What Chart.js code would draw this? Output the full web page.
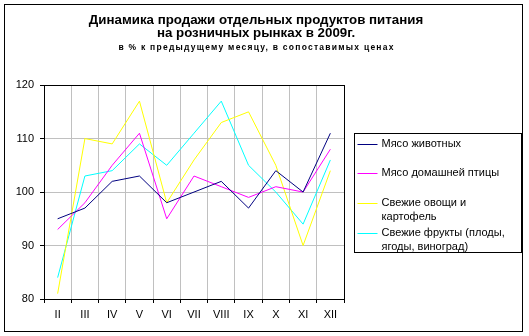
<!DOCTYPE html>
<html>
<head>
<meta charset="utf-8">
<script src="https://cdn.jsdelivr.net/npm/chart.js@4/dist/chart.umd.min.js"></script>
<style>
    html, body { margin: 0; padding: 0; background: #fff; }
    #wrap { width: 529px; height: 336px; }
</style>
</head>
<body>
<div id="wrap"><canvas id="sales-chart"></canvas></div>
<script>
const months = ['II', 'III', 'IV', 'V', 'VI', 'VII', 'VIII', 'IX', 'X', 'XI', 'XII'];
const seriesNames = [
    'Мясо животных',
    'Мясо домашней птицы',
    'Свежие овощи и картофель',
    'Свежие фрукты (плоды, ягоды, виноград)'
];
const meatValues = [95, 97, 102, 103, 98, 100, 102, 97, 104, 100, 111];
const poultryValues = [93, 98, 105, 111, 95, 103, 101, 99, 101, 100, 108];
const vegetableValues = [81, 110, 109, 117, 98, 106, 113, 115, 105, 90, 104];
const fruitValues = [84, 103, 104, 109, 105, 111, 117, 105, 100, 94, 106];
const yTicks = [80, 90, 100, 110, 120];
const seriesColors = ['#000080', '#ff00ff', '#ffff00', '#00ffff'];

const titleLines = ['Динамика продажи отдельных продуктов питания', 'на розничных рынках в 2009г.'];
const subtitleText = 'в % к предыдущему месяцу, в сопоставимых ценах';

const FONT = 'Arial, "Liberation Sans", sans-serif';

function wrapText(ctx, text, maxWidth) {
    const words = text.split(' ');
    const lines = [];
    let line = '';
    for (const word of words) {
        const test = line ? line + ' ' + word : word;
        if (line && ctx.measureText(test).width > maxWidth) {
            lines.push(line);
            line = word;
        } else {
            line = test;
        }
    }
    if (line) lines.push(line);
    return lines;
}

// subtitle and legend are drawn as extra layout boxes
const extraBoxes = {
    id: 'extraBoxes',
    beforeInit(chart) {
        const subtitleBox = {
            position: 'top', weight: 1500, fullSize: true, options: {},
            isHorizontal() { return true; },
            update(maxWidth) { this.width = maxWidth; this.height = 42.7; },
            draw() {
                const ctx = chart.ctx;
                const textWidth = 275;
                ctx.save();
                ctx.font = 'bold 8.5px ' + FONT;
                ctx.fillStyle = '#000';
                ctx.textBaseline = 'middle';
                ctx.textAlign = 'left';
                const natural = ctx.measureText(subtitleText).width;
                ctx.letterSpacing = ((textWidth - natural) / (subtitleText.length - 1)).toFixed(2) + 'px';
                const x = (this.left + this.right) / 2 - textWidth / 2;
                ctx.fillText(subtitleText, x, this.top + 5.3);
                ctx.restore();
            }
        };
        const legendBox = {
            position: 'right', weight: 1000, fullSize: false, options: {},
            isHorizontal() { return false; },
            update(maxWidth, maxHeight) { this.width = 164; this.height = maxHeight; },
            draw() {
                const ctx = chart.ctx;
                const boxLeft = Math.round(this.left + 10) + 0.5;
                const boxTop = Math.round((this.top + this.bottom) / 2 - 59.5) + 0.5;
                ctx.save();
                ctx.fillStyle = '#fff';
                ctx.fillRect(boxLeft, boxTop, 167, 119);
                ctx.strokeStyle = '#000';
                ctx.lineWidth = 1;
                ctx.strokeRect(boxLeft, boxTop, 167, 119);
                ctx.font = '11px ' + FONT;
                ctx.textBaseline = 'middle';
                ctx.textAlign = 'left';
                chart.data.datasets.forEach((ds, i) => {
                    const y = Math.round(boxTop + 10 + i * 29.7);
                    ctx.strokeStyle = seriesColors[i];
                    ctx.lineWidth = 1;
                    ctx.beginPath();
                    ctx.moveTo(boxLeft + 3, y + 0.5);
                    ctx.lineTo(boxLeft + 23, y + 0.5);
                    ctx.stroke();
                    ctx.fillStyle = '#000';
                    wrapText(ctx, ds.label, 136).forEach((line, j) => {
                        ctx.fillText(line, boxLeft + 27, y + j * 14);
                    });
                });
                ctx.restore();
            }
        };
        Chart.layouts.addBox(chart, subtitleBox);
        Chart.layouts.addBox(chart, legendBox);
    },
    beforeDatasetsDraw(chart) {
        const {ctx, chartArea} = chart;
        ctx.save();
        ctx.strokeStyle = '#000';
        ctx.lineWidth = 1;
        const l = Math.round(chartArea.left) + 0.5;
        const t = Math.round(chartArea.top) + 0.5;
        const r = Math.round(chartArea.right) + 0.5;
        const b = Math.round(chartArea.bottom) + 0.5;
        ctx.strokeRect(l, t, r - l, b - t);
        ctx.restore();
    },
    afterDraw(chart) {
        const ctx = chart.ctx;
        ctx.save();
        ctx.strokeStyle = '#000';
        ctx.lineWidth = 1;
        ctx.strokeRect(4.5, 4.5, 518, 327);
        ctx.restore();
    }
};

const valueSets = [meatValues, poultryValues, vegetableValues, fruitValues];

new Chart(document.getElementById('sales-chart'), {
    type: 'line',
    data: {
        labels: months,
        datasets: valueSets.map((values, i) => ({
            label: seriesNames[i],
            data: values,
            borderColor: seriesColors[i],
            backgroundColor: seriesColors[i],
            borderWidth: 1,
            pointRadius: 0,
            tension: 0,
            fill: false
        }))
    },
    options: {
        responsive: true,
        maintainAspectRatio: false,
        animation: false,
        layout: {
            padding: { top: 9, left: 4, right: 21, bottom: 5 }
        },
        plugins: {
            legend: { display: false },
            tooltip: { enabled: false },
            title: {
                display: true,
                text: titleLines,
                color: '#000',
                font: { family: FONT, size: 13.3, weight: 'bold', lineHeight: 1.03 },
                padding: { top: 4, bottom: 2 }
            }
        },
        scales: {
            x: {
                offset: true,
                grid: {
                    offset: true,
                    color: '#c0c0c0',
                    tickColor: '#000',
                    tickLength: 4
                },
                border: { color: '#000' },
                ticks: {
                    color: '#000',
                    font: { family: FONT, size: 11 },
                    padding: 5,
                    maxRotation: 0,
                    autoSkip: false
                },
                afterFit(scale) { scale.height = 32; }
            },
            y: {
                min: yTicks[0],
                max: yTicks[yTicks.length - 1],
                grid: {
                    color: '#c0c0c0',
                    tickColor: '#000',
                    tickLength: 4
                },
                border: { color: '#000' },
                ticks: {
                    stepSize: yTicks[1] - yTicks[0],
                    color: '#000',
                    font: { family: FONT, size: 11 },
                    padding: 6
                },
                afterFit(scale) { scale.width = 40; }
            }
        }
    },
    plugins: [extraBoxes]
});
</script>
</body>
</html>
